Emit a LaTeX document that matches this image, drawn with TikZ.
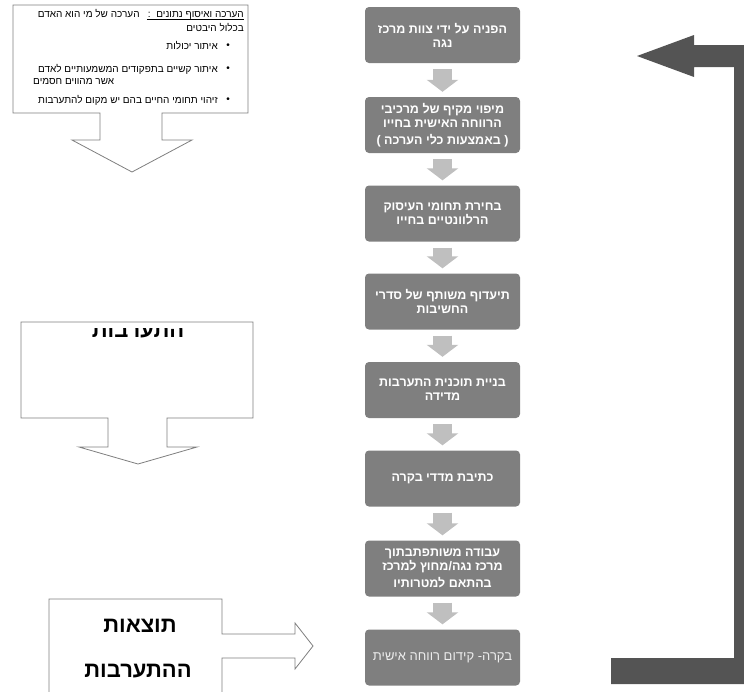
\documentclass[tikz,border=0pt]{standalone}
\usepackage{fontspec}
\setmainfont{Liberation Sans}[Script=Hebrew]
\TeXXeTstate=1
\usetikzlibrary{arrows.meta,calc}
\newcommand\R[1]{\beginR#1\endR}
\definecolor{boxgray}{HTML}{7F7F7F}
\definecolor{arrowgray}{HTML}{BFBFBF}
\definecolor{darkarrow}{HTML}{545454}
\definecolor{linegray}{HTML}{7F7F7F}
\definecolor{lighttext}{HTML}{EDEDED}
\begin{document}
\begin{tikzpicture}[x=1pt,y=-1pt,
  stepbox/.style={fill=boxgray, rounded corners=4pt, minimum width=155pt, minimum height=56pt, inner sep=0pt, align=center, text=white, font=\bfseries\fontsize{12.5}{14}\selectfont},
  flow/.style={draw=arrowgray, line width=19pt, shorten <=6pt, shorten >=5pt, -{Triangle[length=12pt,width=31pt]}},
  outline/.style={draw=linegray, line width=0.8pt, fill=white},
  small/.style={font=\fontsize{10}{12}\selectfont, inner sep=0pt},
  big/.style={font=\bfseries\fontsize{22}{26}\selectfont, inner sep=0pt}]
\useasboundingbox (0,0) rectangle (744,691);

% left outline arrows
\draw[outline] (13,5) -- (248,5) -- (248,113) -- (162,113) -- (162,140) -- (192,140) -- (132,172) -- (72,140) -- (100,140) -- (100,113) -- (13,113) -- cycle;
\draw[outline] (21,322) -- (253,322) -- (253,418) -- (167,418) -- (167,447) -- (197,447) -- (138,464) -- (79,447) -- (108,447) -- (108,418) -- (21,418) -- cycle;
\draw[outline] (49,599) -- (222,599) -- (222,634) -- (295,634) -- (295,623) -- (313,646) -- (295,669) -- (295,658) -- (222,658) -- (222,700) -- (49,700) -- cycle;

% top-left texts
\node[small, anchor=base east] (t1a) at (244,17.5) {\R{הערכה ואיסוף נתונים\ \ :}};
\draw[line width=0.6pt] ($(t1a.base west)+(-1,2.2)$) -- ($(t1a.base east)+(0,2.2)$);
\node[small, anchor=base east] (t1b) at ($(t1a.base west)+(-8,0)$) {\R{הערכה של מי הוא האדם}};
\node[small, anchor=base east] (t2) at (244,31) {\R{בכלול היבטים}};
\node[small] (bu1) at (228,46) {•};
\node[small] (bu2) at (228,69) {•};
\node[small] (bu3) at (228,100) {•};
\node[small, anchor=base east] (t3) at (218,49) {\R{איתור יכולות}};
\node[small, anchor=base east] (t4) at (218,72) {\R{איתור קשיים בתפקודים המשמעותיים לאדם}};
\node[small, anchor=base west] (t5) at (33,84) {\R{אשר מהווים חסמים}};
\node[small, anchor=base east] (t6) at (218,103) {\R{זיהוי תחומי החיים בהם יש מקום להתערבות}};

% middle-left text (clipped at top)
\begin{scope}
\clip (21,328) rectangle (253,418);
\node[big, anchor=base] (interv) at (138,337) {\R{התערבות}};
\end{scope}

% bottom-left texts
\node[big, anchor=base] (res1) at (140,632) {\R{תוצאות}};
\node[big, anchor=base] (res2) at (138,677) {\R{ההתערבות}};

% center column
\node[stepbox] (b1) at (442.5,35) {\R{הפניה על ידי צוות מרכז}\\\R{נגה}};
\node[stepbox] (b2) at (442.5,125) {\R{מיפוי מקיף של מרכיבי}\\\R{הרווחה האישית בחייו}\\[3pt]\R{( באמצעות כלי הערכה )}};
\node[stepbox] (b3) at (442.5,213.5) {\R{בחירת תחומי העיסוק}\\\R{הרלוונטיים בחייו}};
\node[stepbox] (b4) at (442.5,301.5) {\R{תיעדוף משותף של סדרי}\\\R{החשיבות}};
\node[stepbox] (b5) at (442.5,390) {\R{בניית תוכנית התערבות}\\\R{מדידה}};
\node[stepbox] (b6) at (442.5,478.5) {\R{כתיבת מדדי בקרה}};
\node[stepbox] (b7) at (442.5,568.5) {\R{עבודה משותפתבתוך}\\\R{מרכז נגה/מחוץ למרכז}\\[3pt]\R{בהתאם למטרותיו}};
\node[stepbox, text=lighttext, font=\fontsize{13}{15}\selectfont] (b8) at (442.5,657.5) {\R{בקרה- קידום רווחה אישית}};

\draw[flow] (b1) -- (b2);
\draw[flow] (b2) -- (b3);
\draw[flow] (b3) -- (b4);
\draw[flow] (b4) -- (b5);
\draw[flow] (b5) -- (b6);
\draw[flow] (b6) -- (b7);
\draw[flow] (b7) -- (b8);

% big loop arrow
\fill[darkarrow] (637,56) -- (694,35) -- (694,45) -- (758,45) -- (758,684) -- (611,684) -- (611,658) -- (734,658) -- (734,67) -- (694,67) -- (694,77) -- cycle;
\end{tikzpicture}
\end{document}
